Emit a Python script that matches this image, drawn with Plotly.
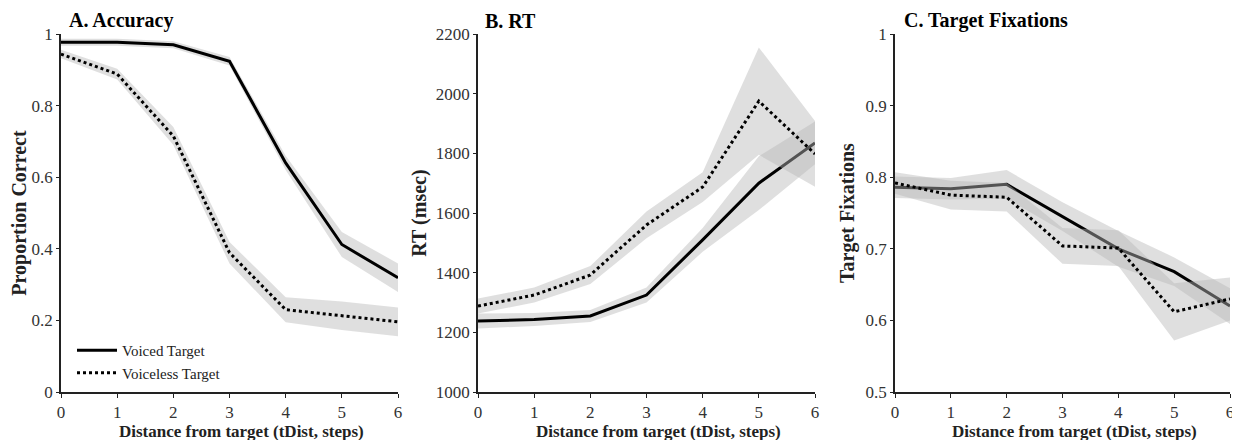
import plotly.graph_objects as go

steps = [0, 1, 2, 3, 4, 5, 6]

# A. Accuracy
acc_voiced = [0.977, 0.977, 0.970, 0.924, 0.640, 0.412, 0.319]
acc_voiced_err = [0.010, 0.010, 0.010, 0.012, 0.020, 0.035, 0.040]
acc_voiceless = [0.944, 0.888, 0.715, 0.389, 0.230, 0.213, 0.196]
acc_voiceless_err = [0.012, 0.015, 0.025, 0.030, 0.035, 0.040, 0.040]

# B. RT
rt_voiced = [1238, 1243, 1255, 1325, 1510, 1700, 1835]
rt_voiced_err = [25, 22, 20, 25, 40, 90, 72]
rt_voiceless = [1288, 1325, 1392, 1560, 1687, 1975, 1798]
rt_voiceless_err = [25, 25, 30, 45, 50, 180, 110]

# C. Target Fixations
fix_voiced = [0.786, 0.784, 0.790, 0.745, 0.700, 0.668, 0.620]
fix_voiced_err = [0.015, 0.015, 0.020, 0.020, 0.025, 0.020, 0.025]
fix_voiceless = [0.792, 0.775, 0.772, 0.704, 0.701, 0.612, 0.630]
fix_voiceless_err = [0.015, 0.020, 0.020, 0.025, 0.025, 0.040, 0.030]

xlabel = "Distance from target (tDist, steps)"

panels = [
    ("A. Accuracy", "Proportion Correct", acc_voiced, acc_voiced_err, acc_voiceless, acc_voiceless_err,
     [0, 1], [0, 0.2, 0.4, 0.6, 0.8, 1]),
    ("B. RT", "RT (msec)", rt_voiced, rt_voiced_err, rt_voiceless, rt_voiceless_err,
     [1000, 2200], [1000, 1200, 1400, 1600, 1800, 2000, 2200]),
    ("C. Target Fixations", "Target Fixations", fix_voiced, fix_voiced_err, fix_voiceless, fix_voiceless_err,
     [0.5, 1], [0.5, 0.6, 0.7, 0.8, 0.9, 1]),
]

W, H = 1232, 432
OFF = 8
xdomains = [[(61 - OFF) / W, (398 - OFF) / W], [(478 - OFF) / W, (815 - OFF) / W], [(895 - OFF) / W, (1230 - OFF) / W]]
ydomain = [1 - (392 - OFF) / H, 1 - (34 - OFF) / H]
title_dx = [6, 5, 7]
ytitle_standoff = [4, 4, 6]

BAND = "rgba(184,184,184,0.45)"
FONT = "'Liberation Serif', 'Times New Roman', Times, serif"

fig = go.Figure()
layout = dict(
    width=W, height=H,
    margin=dict(l=0, r=0, t=0, b=0, autoexpand=False),
    paper_bgcolor="white", plot_bgcolor="white",
    font=dict(family=FONT, color="#222", size=15),
    showlegend=True,
    legend=dict(x=64 / W, y=1 - 326 / H, xanchor="left", yanchor="top", bgcolor="rgba(0,0,0,0)",
                font=dict(family=FONT, size=15, color="#222"), tracegroupgap=0,
                itemwidth=40),
    annotations=[],
)

for i, (title, ytitle, v, ve, vl, vle, yr, yt) in enumerate(panels):
    xa = "x" if i == 0 else f"x{i+1}"
    ya = "y" if i == 0 else f"y{i+1}"
    for vals, errs, dash, name in [(v, ve, "solid", "Voiced Target"), (vl, vle, "dot", "Voiceless Target")]:
        upper = [a + b for a, b in zip(vals, errs)]
        lower = [a - b for a, b in zip(vals, errs)]
        fig.add_trace(go.Scatter(
            x=steps + steps[::-1], y=upper + lower[::-1], fill="toself", fillcolor=BAND,
            line=dict(width=0), mode="lines", hoverinfo="skip", showlegend=False,
            xaxis=xa, yaxis=ya))
        fig.add_trace(go.Scatter(
            x=steps, y=vals, mode="lines", name=name,
            line=dict(color="black", width=3, dash=dash),
            showlegend=(i == 0), xaxis=xa, yaxis=ya))
    xkey = "xaxis" if i == 0 else f"xaxis{i+1}"
    ykey = "yaxis" if i == 0 else f"yaxis{i+1}"
    layout[xkey] = dict(
        domain=xdomains[i], anchor=ya, range=[0, 6], tickvals=steps, automargin=False,
        showline=True, linecolor="#222", linewidth=1.5, ticks="outside", ticklen=4,
        tickcolor="#222", showgrid=False, zeroline=False,
        tickfont=dict(family=FONT, size=17, color="#333"),
    )
    layout[ykey] = dict(
        domain=ydomain, anchor=xa, range=yr, tickvals=yt, automargin=False,
        showline=True, linecolor="#222", linewidth=1.5, ticks="outside", ticklen=3,
        tickcolor="#222", showgrid=False, zeroline=False,
        tickfont=dict(family=FONT, size=17, color="#333"),
        title=dict(text=f"<b>{ytitle}</b>", standoff=ytitle_standoff[i],
                   font=dict(family=FONT, size=20, color="#222")),
    )
    layout["annotations"].append(dict(
        text=f"<b>{title}</b>", xref="paper", yref="paper",
        x=xdomains[i][0] + title_dx[i] / W, y=1 - (21 - OFF) / H, xanchor="left", yanchor="middle",
        showarrow=False, font=dict(family=FONT, size=20, color="black")))
    layout["annotations"].append(dict(
        text=f"<b>{xlabel}</b>", xref="paper", yref="paper",
        x=(xdomains[i][0] + xdomains[i][1]) / 2 + 12 / W, y=1 - (431 - OFF) / H,
        xanchor="center", yanchor="middle",
        showarrow=False, font=dict(family=FONT, size=17, color="#222")))

fig.update_layout(**layout)
fig.write_html("out.html")
